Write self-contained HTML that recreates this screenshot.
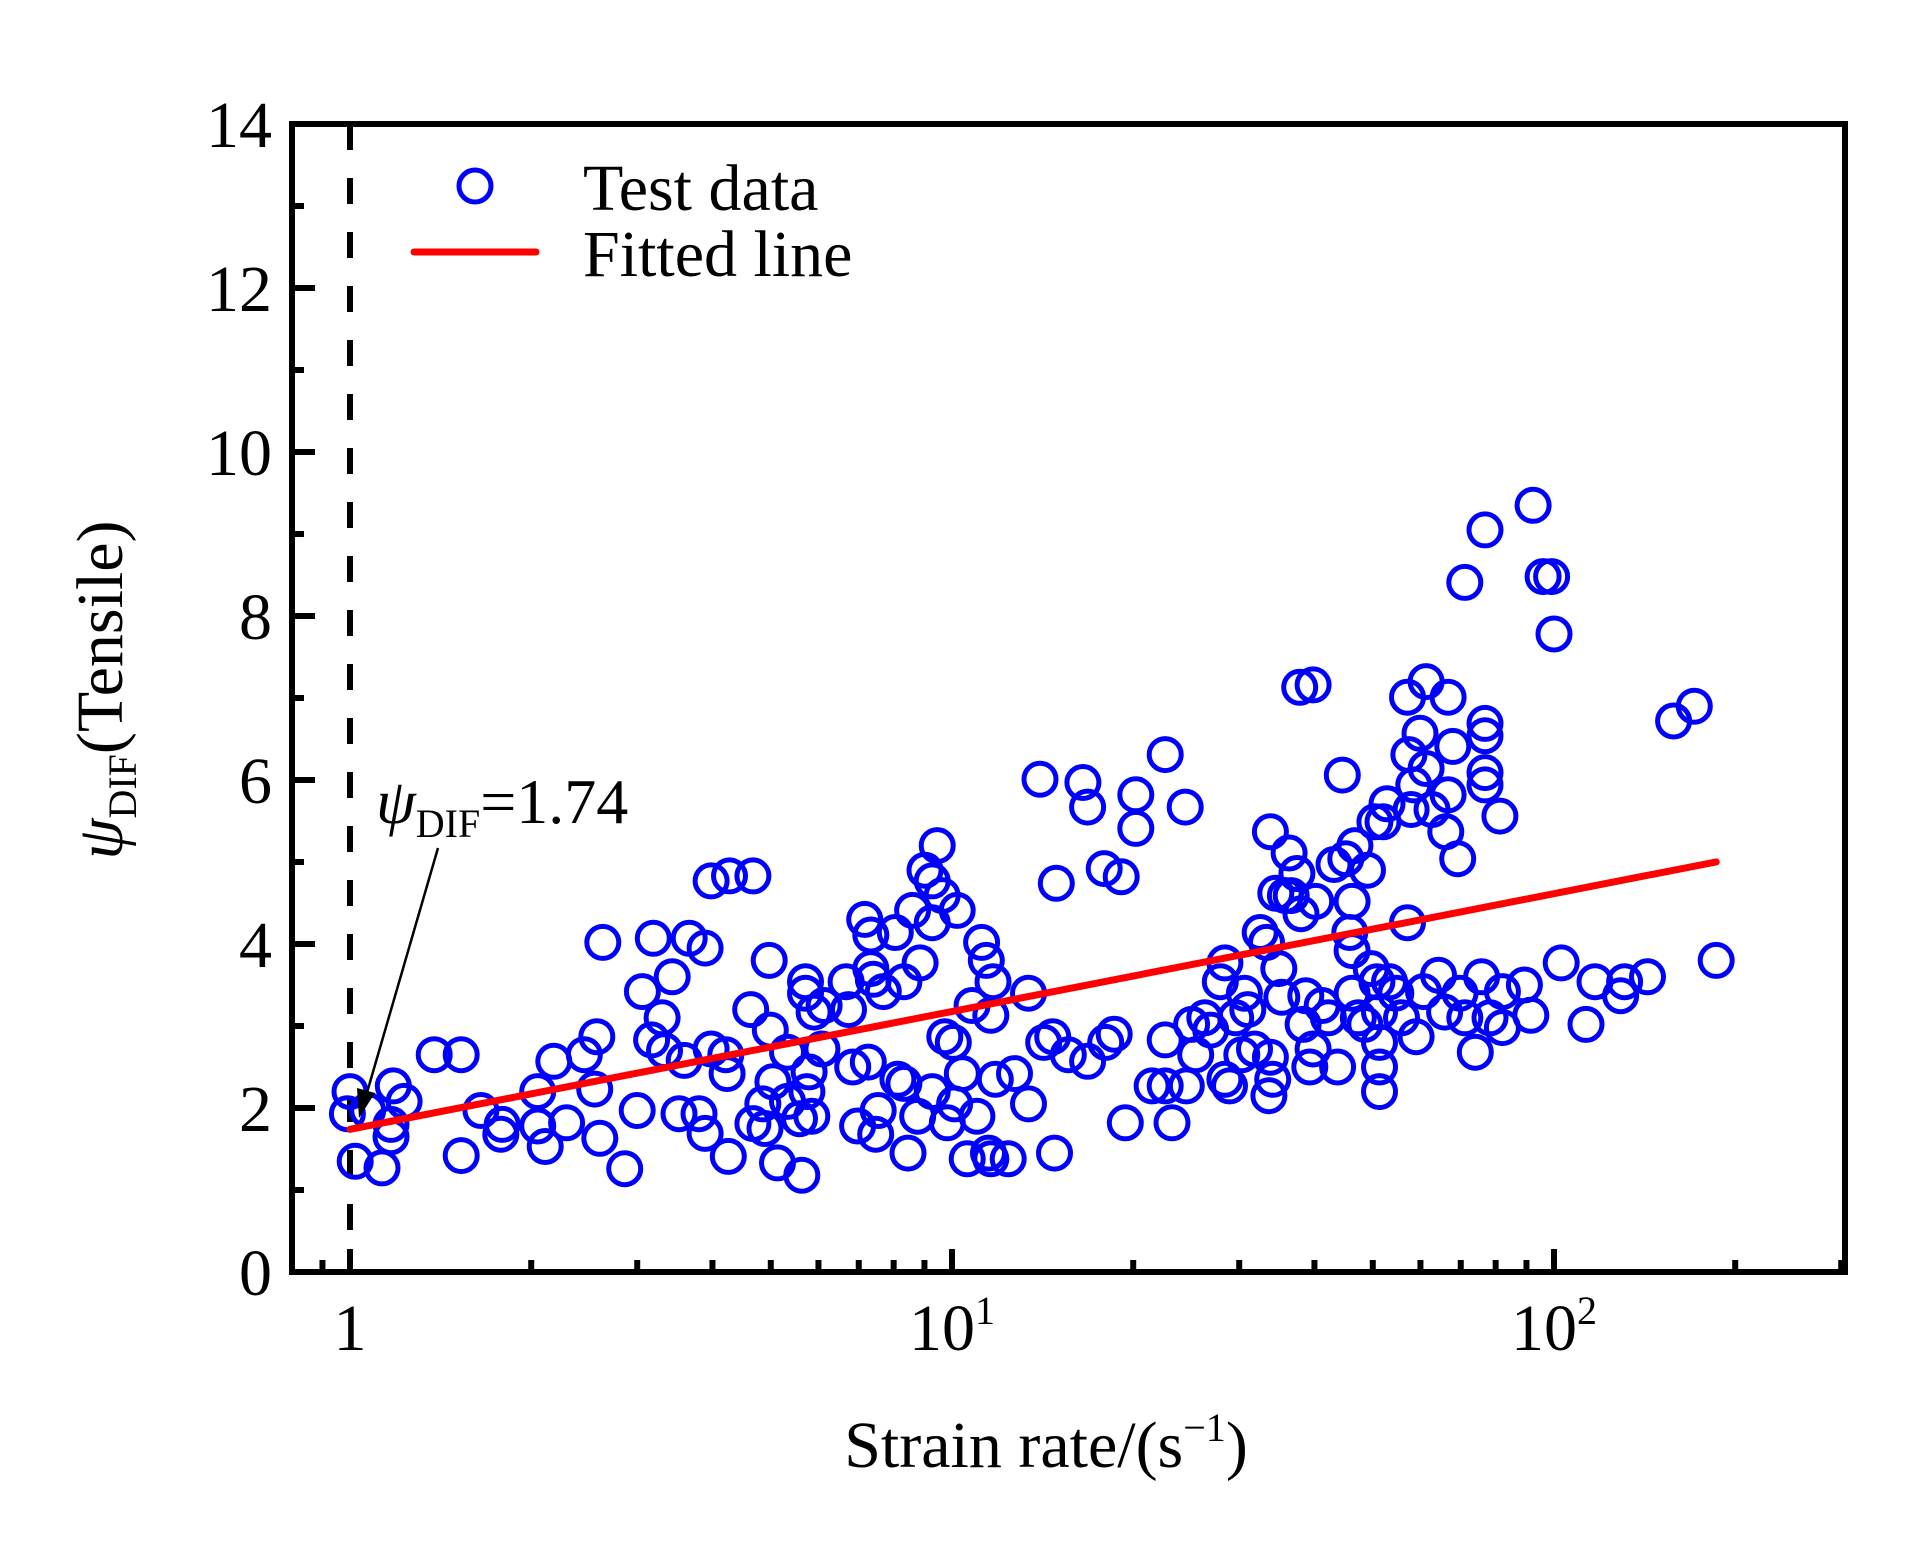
<!DOCTYPE html>
<html><head><meta charset="utf-8">
<style>
html,body{margin:0;padding:0;background:#fff;}
svg{display:block;}
text{font-family:"Liberation Serif",serif;fill:#000;}
</style></head>
<body>
<svg id="chart" width="1923" height="1559" viewBox="0 0 1923 1559" xmlns="http://www.w3.org/2000/svg">
<rect x="0" y="0" width="1923" height="1559" fill="#fff"/>
<g id="grid-layer"></g>
<g id="points"></g>
<g id="fit"></g>
<g id="frame"></g>
<g>
  <circle cx="475" cy="186" r="16" fill="none" stroke="#0000ff" stroke-width="5"/>
  <text x="583" y="210" font-size="66">Test data</text>
  <line x1="414" y1="252" x2="536" y2="252" stroke="#ff0000" stroke-width="7" stroke-linecap="round"/>
  <text x="583" y="276" font-size="66">Fitted line</text>
</g>
<g>
  <text x="376" y="823" font-size="64"><tspan font-style="italic">ψ</tspan><tspan font-size="40" dy="14">DIF</tspan><tspan dy="-14">=1.74</tspan></text>
  <line x1="438" y1="848" x2="366" y2="1096" stroke="#000" stroke-width="2.5"/>
  <polygon points="359,1118 357,1088 375,1093" fill="#000"/>
</g>
<text x="1046" y="1467" font-size="66" text-anchor="middle">Strain rate/(s<tspan font-size="40" dy="-26">−1</tspan><tspan dy="26">)</tspan></text>
<text transform="translate(122,690) rotate(-90)" font-size="66" text-anchor="middle"><tspan font-style="italic">ψ</tspan><tspan font-size="40" dy="14">DIF</tspan><tspan dy="-14">(Tensile)</tspan></text>
</svg>
<script>
const strainRates = [1.0,0.99,1.02,1.07,1.13,1.18,1.17,1.17,1.23,
1.38,1.53,1.53,1.65,1.78,1.79,2.05,2.05,2.11,2.18,2.29,2.45,2.55,2.57,2.6,2.63,2.86,3.0,3.06,3.19,3.17,3.3,3.33,3.43,3.52,3.59,3.66,3.8,3.89,3.89,3.98,3.98,4.21,4.27,4.23,4.25,
4.67,4.63,4.67,4.85,4.97,4.99,4.89,5.04,5.13,5.33,5.33,5.58,5.71,5.71,5.63,5.74,5.79,5.85,5.9,6.08,6.13,6.67,6.73,6.84,6.97,7.16,7.26,7.33,7.33,7.4,7.47,7.54,7.69,8.05,8.13,8.32,8.32,8.45,8.6,8.77,8.85,9.02,9.27,9.27,9.27,9.45,9.63,9.73,9.82,10.05,10.2,10.1,10.4,10.6,10.8,11.0,11.2,11.4,11.5,11.6,11.6,11.7,11.8,12.4,12.7,13.4,13.4,
14.0,14.2,14.7,14.8,14.9,15.6,16.5,16.8,16.8,17.9,18.0,18.6,19.1,19.4,20.2,20.2,21.5,22.6,22.6,23.2,22.6,24.4,24.5,25,25.4,26.3,26.9,27.9,28.4,28.4,28.9,29.6,30.3,30.6,31.0,31.8,32.5,33.3,33.8,33.6,33.8,34.1,34.5,34.9,35.3,35.8,36.3,36.6,37.4,37.8,38.0,38.3,38.7,39.3,39.8,39.8,40.2,41.2,42.2,43.1,43.7,44.5,45.1,45.8,46.2,46.2,46.7,46.2,47.3,48.5,49.0,49.7,50.4,50.8,51.3,51.3,51.3,51.3,52.0,52.8,53.3,54.6,55.8,57.1,57.1,57.4,57.9,58.5,59.0,59.9,60.7,61.3,61.3,62.7,64.3,65.8,66.7,66.1,66.7,67.9,69.2,69.8,71.1,71.1,74.0,75.8,76.8,76.8,76.8,76.8,76.8,78.3,81.3,82.1,82.1,89.3,91.5,92.3,95.9,99.1,100,102.8,113,117,129,131,143,158,171,186];
const difValues = [2.2,1.93,1.35,1.97,1.27,2.27,1.8,1.65,2.08,
2.65,2.65,1.42,1.97,1.68,1.8,2.2,1.78,1.53,2.57,1.82,2.65,2.23,2.87,1.63,4.02,1.26,1.97,3.42,4.07,2.83,3.1,2.7,3.6,1.93,2.58,4.07,1.93,3.95,1.69,4.77,2.72,2.65,4.83,2.42,1.41,
4.83,3.2,1.81,2.05,3.8,2.95,1.75,2.32,1.33,2.68,2.08,1.87,3.54,3.4,1.18,2.2,2.44,1.9,3.17,2.72,3.25,3.54,3.2,2.5,1.78,4.3,2.56,4.11,3.7,3.57,1.68,1.97,3.42,4.14,2.35,3.54,2.3,1.45,4.41,1.9,3.77,4.9,4.77,4.26,2.2,5.2,4.59,2.87,1.82,2.8,4.41,2.05,2.42,1.38,3.25,1.9,4.02,3.8,1.45,1.38,3.13,3.54,2.35,1.38,2.42,3.4,2.05,
6.01,2.8,2.87,1.45,4.74,2.65,5.97,5.67,2.57,4.92,2.8,2.9,4.82,1.82,5.82,5.41,2.27,6.31,2.83,1.82,2.27,5.67,2.27,3.02,2.65,3.1,2.95,3.54,3.77,2.35,2.27,3.1,2.65,3.4,3.2,2.72,4.14,4.02,5.37,2.15,2.62,2.35,4.62,3.7,3.35,4.59,5.11,4.59,4.86,7.13,4.37,3.02,3.37,2.5,7.16,2.72,4.52,3.25,3.1,4.97,2.5,6.06,5.04,4.14,4.52,3.92,5.2,3.4,3.1,3.02,4.9,3.7,5.49,3.54,3.17,2.8,2.5,2.2,5.49,5.71,3.54,3.4,3.1,7.01,4.26,6.31,5.64,5.94,2.87,6.57,3.42,7.2,6.14,5.64,3.62,3.17,7.01,5.37,5.82,6.41,5.04,3.4,8.41,3.1,2.68,3.6,9.05,6.69,6.54,6.09,5.94,3.1,5.56,2.98,3.42,3.5,3.13,9.35,8.48,8.48,7.78,3.77,3.02,3.54,3.37,3.54,3.6,6.72,6.9,3.8];
const yTickLabels = ["0","2","4","6","8","10","12","14"];
const xTickLabels = ["1","10","100"];
const fitIntercept = [1.74];
const fitSlope = [1.437];
const fitRange = [1, 186];

const NS = "http://www.w3.org/2000/svg";
const L = 292, R = 1845, T = 124, B = 1272;
function xs(v){ return 350 + 602*Math.log10(v); }
function ys(v){ return 1272 - 82*v; }
function mk(tag, attrs, parent){
  const e = document.createElementNS(NS, tag);
  for (const k in attrs) e.setAttribute(k, attrs[k]);
  parent.appendChild(e);
  return e;
}
const axes = document.getElementById('grid-layer');
const frame = document.getElementById('frame');

const dl = mk('line', {x1:xs(1), y1:T, x2:xs(1), y2:B, stroke:'#000', 'stroke-width':6, 'stroke-dasharray':'26 28'}, axes);



const pg = document.getElementById('points');
for (let i = 0; i < strainRates.length; i++){
  const c = mk('circle', {cx:xs(strainRates[i]).toFixed(1), cy:ys(difValues[i]).toFixed(1), r:16, fill:'none', stroke:'#0000ff', 'stroke-width':5}, pg);
  
  
}
const fg = document.getElementById('fit');
const f0 = fitIntercept[0] + fitSlope[0]*Math.log10(fitRange[0]);
const f1 = fitIntercept[0] + fitSlope[0]*Math.log10(fitRange[1]);
const fl = mk('line', {x1:xs(fitRange[0]), y1:ys(f0), x2:xs(fitRange[1]), y2:ys(f1), stroke:'#ff0000', 'stroke-width':7, 'stroke-linecap':'round'}, fg);



const fr = mk('rect', {x:L, y:T, width:R-L, height:B-T, fill:'none', stroke:'#000', 'stroke-width':6}, frame);



for (let i = 0; i < yTickLabels.length; i++){
  const v = parseFloat(yTickLabels[i]);
  const t = mk('line', {x1:L, y1:ys(v), x2:L+23, y2:ys(v), stroke:'#000', 'stroke-width':6}, frame);
  
  
  if (v < 14){
    const m = mk('line', {x1:L, y1:ys(v+1), x2:L+12, y2:ys(v+1), stroke:'#000', 'stroke-width':6}, frame);
    
    
  }
  const tx = mk('text', {x:272, y:ys(v)+23, 'font-size':66, 'text-anchor':'end'}, frame);
  tx.textContent = yTickLabels[i];
  
  
}
for (let d = -1; d <= 2; d++){
  for (let k = 1; k <= 9; k++){
    const v = k*Math.pow(10, d);
    const px = xs(v);
    if (px <= L+3 || px >= R-3) continue;
    const len = (k === 1) ? 23 : 12;
    const t = mk('line', {x1:px, y1:B, x2:px, y2:B-len, stroke:'#000', 'stroke-width':6}, frame);
    
    
  }
}
for (let i = 0; i < xTickLabels.length; i++){
  const v = parseFloat(xTickLabels[i]);
  const tx = mk('text', {x:xs(v), y:1350, 'font-size':66, 'text-anchor':'middle'}, frame);
  const p = Math.round(Math.log10(v));
  if (p === 0){ tx.textContent = '1'; }
  else {
    tx.textContent = '10';
    const s = mk('tspan', {'font-size':40, dy:-26}, tx);
    s.textContent = String(p);
  }
  
  
}
</script>
</body></html>
